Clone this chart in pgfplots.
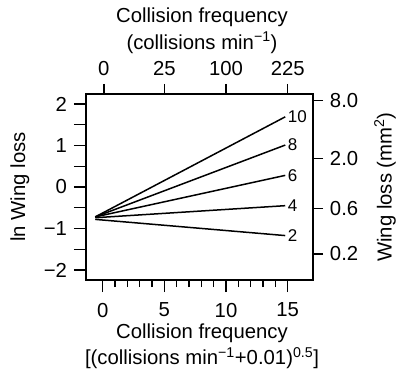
\documentclass[border=0pt]{standalone}
\usepackage{fontspec}
\setmainfont{Liberation Sans}
\usepackage{pgfplots}
\pgfplotsset{compat=1.18}
\begin{document}
\fontsize{20.3}{24}\selectfont
\begin{tikzpicture}
\useasboundingbox (-86pt,-95pt) rectangle (310pt,280pt);
\pgfplotsset{
  common/.style={
    at={(0pt,0pt)}, anchor=south west,
    width=227pt, height=186pt, scale only axis,
    xmin=-1.35, xmax=17.05, ymin=-2.24, ymax=2.24,
    axis line style={line width=1.4pt},
    every tick/.style={line width=1.4pt, black},
    tick align=outside,
    /pgf/number format/assume math mode=true,
    label style={align=center, font=\fontsize{20.3}{26.5}\selectfont},
  }
}
\begin{axis}[common,
  xtick={0,5,10,15},
  xticklabels={0,5,10,15},
  minor xtick={1,2,3,4,6,7,8,9,11,12,13,14},
  xtick pos=left,
  ytick={-2,-1.5,...,2},
  yticklabels={−2,,−1,,0,,1,,2},
  ytick pos=left,
  major tick length=12pt,
  minor tick length=7pt,
  xticklabel style={yshift=-4pt},
  xlabel={Collision frequency\\{[}(collisions min\textsuperscript{−1}+0.01)\textsuperscript{0.5}{]}},
  ylabel={ln Wing loss},
  xlabel style={at={(axis description cs:0.511,-0.355)}, anchor=center},
  ylabel style={at={(axis description cs:-0.291,0.5)}, anchor=center},
]
\addplot[line width=1.5pt, black] coordinates {(-0.6,-0.72) (14.8,1.69)} node[pos=1, anchor=west, font=\fontsize{17}{20}\selectfont, inner sep=2pt]{10};
\addplot[line width=1.5pt, black] coordinates {(-0.6,-0.72) (14.8,1.01)} node[pos=1, anchor=west, font=\fontsize{17}{20}\selectfont, inner sep=2pt]{8};
\addplot[line width=1.5pt, black] coordinates {(-0.6,-0.72) (14.8,0.28)} node[pos=1, anchor=west, font=\fontsize{17}{20}\selectfont, inner sep=2pt]{6};
\addplot[line width=1.5pt, black] coordinates {(-0.6,-0.74) (14.8,-0.45)} node[pos=1, anchor=west, font=\fontsize{17}{20}\selectfont, inner sep=2pt]{4};
\addplot[line width=1.5pt, black] coordinates {(-0.6,-0.78) (14.8,-1.17)} node[pos=1, anchor=west, font=\fontsize{17}{20}\selectfont, inner sep=2pt]{2};
\end{axis}
\begin{axis}[common,
  xtick={0.1,5,10,15},
  xticklabels={0,25,100,225},
  xtick pos=right, xticklabel pos=right,
  ytick={-1.609,-0.511,0.693,2.079},
  yticklabels={0.2,0.6,2.0,8.0},
  ytick pos=right, yticklabel pos=right,
  major tick length=10pt,
  xticklabel style={yshift=1pt},
  xlabel={Collision frequency\\(collisions min\textsuperscript{−1})},
  ylabel={Wing loss (mm\textsuperscript{2})},
  xlabel style={at={(axis description cs:0.511,1.339)}, anchor=center},
  ylabel style={at={(axis description cs:1.317,0.5)}, anchor=center},
]
\end{axis}
\end{tikzpicture}
\end{document}
